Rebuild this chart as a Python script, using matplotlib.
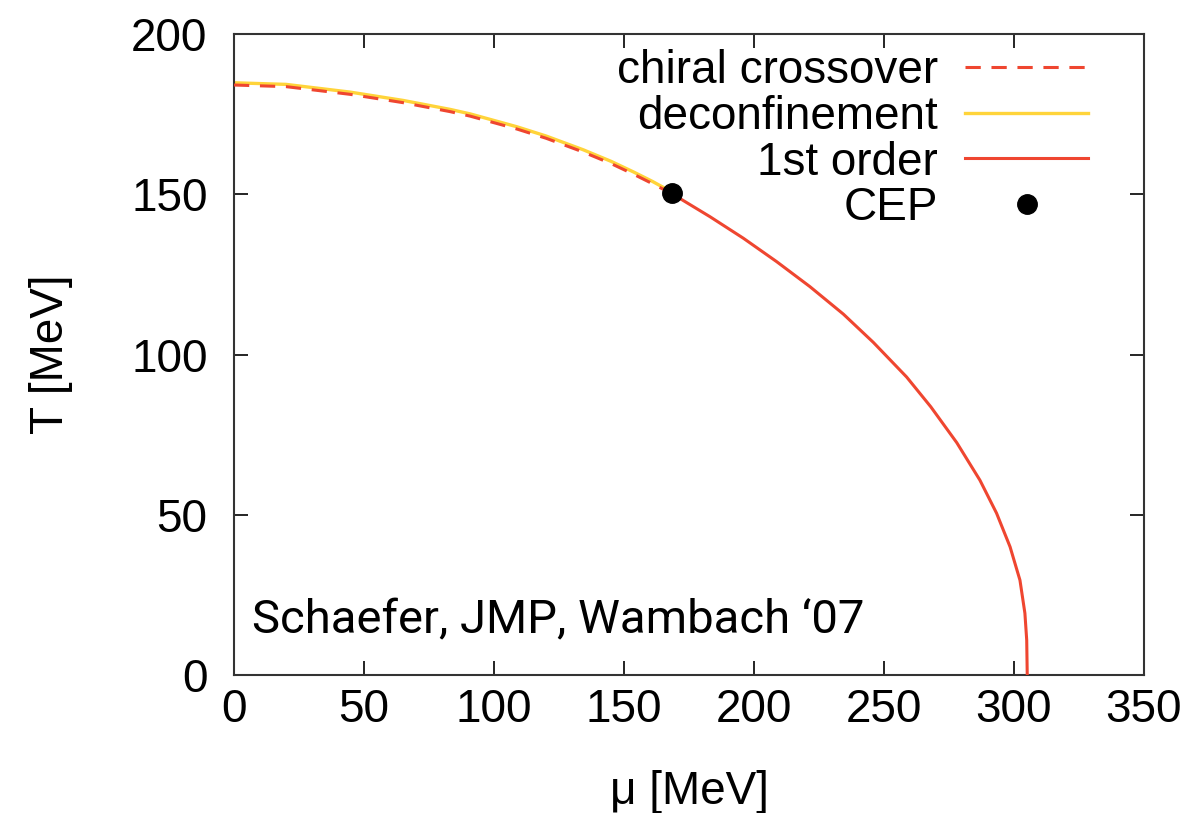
import matplotlib
matplotlib.use("Agg")
import matplotlib.pyplot as plt

# crossover lines (mu in MeV, T in MeV)
mu_cross = [0, 20, 44.6, 65, 83.1, 90.8, 108.7, 120, 134.3, 145, 153.6, 161, 167.7]
T_deconf = [184.8, 184.3, 181.9, 179.3, 176.5, 175.1, 171.1, 168.2, 163.9, 160.3, 157.0, 154.0, 151.0]
T_chiral = [184.1, 183.6, 181.2, 178.6, 175.8, 174.4, 170.4, 167.5, 163.2, 159.6, 156.3, 153.3, 150.5]

# first order line from the CEP down to T = 0
mu_first = [168.3, 171.5, 183.1, 195.9, 208.7, 221.5, 234.4, 245.9, 258.7, 268.0,
            278.0, 286.9, 293.3, 298.5, 302.3, 304.2, 304.9, 305.1]
T_first = [150.3, 148.7, 143.0, 136.3, 129.0, 121.2, 112.6, 103.8, 93.0, 83.7,
           72.5, 60.8, 50.5, 40.0, 29.6, 19.3, 10.9, 0.0]

cep_mu = [168.3]
cep_T = [150.3]

RED = "#ef4630"
YELLOW = "#ffd43a"
FS = 33

plt.rcParams['font.family'] = ['Liberation Sans', 'DejaVu Sans']

fig = plt.figure(figsize=(11.95, 8.13), dpi=100)
ax = fig.add_axes([0.1958, 0.1697, 0.7615, 0.7884])

ax.plot(mu_cross, T_deconf, color=YELLOW, lw=2.4, label="deconfinement", zorder=2)
ax.plot(mu_cross, T_chiral, color=RED, lw=2.2, ls=(0, (5, 3.5)), label="chiral crossover", zorder=3)
ax.plot(mu_first, T_first, color=RED, lw=2.2, label="1st order", zorder=3)
ax.plot(cep_mu, cep_T, 'o', color='black', ms=14, label="CEP", zorder=4)

ax.set_xlim(0, 350)
ax.set_ylim(0, 200)
ax.set_xticks(range(0, 351, 50))
ax.set_yticks(range(0, 201, 50))
ax.tick_params(direction='in', length=10, width=1.2, top=True, right=True,
               labelsize=FS)
ax.tick_params(axis='x', pad=9)
ax.tick_params(axis='y', pad=19)
for s in ax.spines.values():
    s.set_linewidth(1.5)
    s.set_color('#333333')

ax.set_xlabel(u"\u03bc [MeV]", fontsize=FS, labelpad=28)
ax.set_ylabel("T [MeV]", fontsize=FS, labelpad=42)

ax.text(6.9, 13, u"Schaefer, JMP, Wambach \u201807", fontsize=34,
        family=['Roboto', 'Liberation Sans', 'DejaVu Sans'], weight='normal')

h, l = ax.get_legend_handles_labels()
order = [1, 0, 2, 3]
ax.legend([h[i] for i in order], [l[i] for i in order], loc='upper right',
          frameon=False, markerfirst=False, fontsize=FS, handlelength=2.69,
          labelspacing=0.04, borderaxespad=0.3, handletextpad=0.59,
          bbox_to_anchor=(0.974, 1.027))

fig.savefig("out.png", dpi=100)
